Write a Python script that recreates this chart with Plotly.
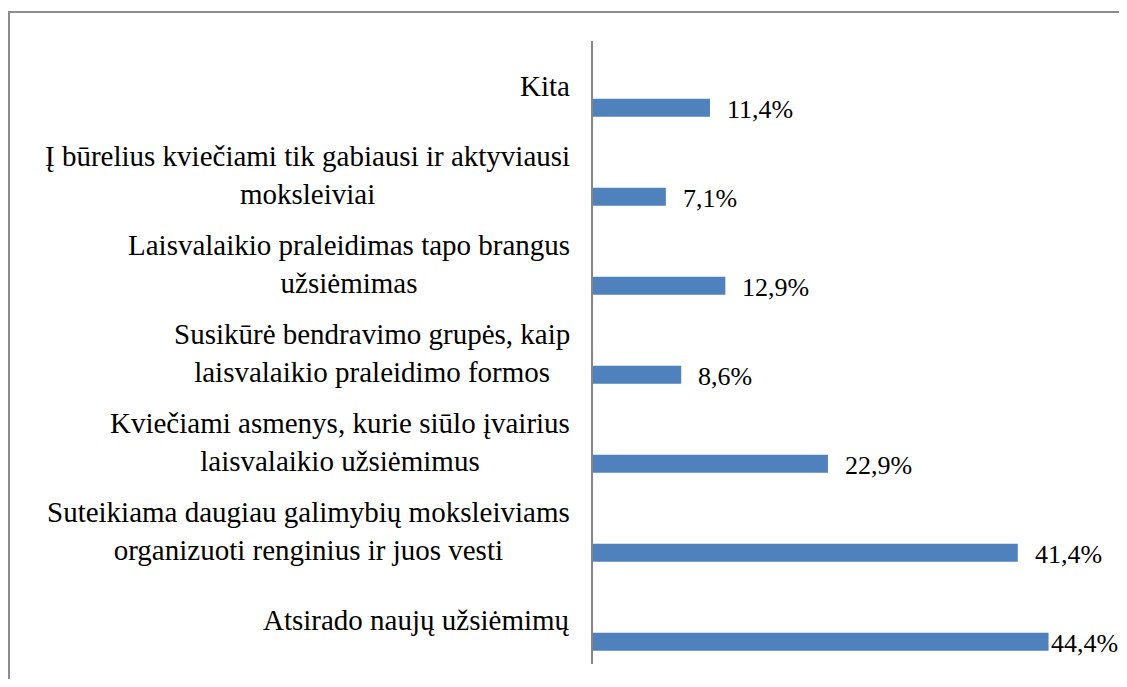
import plotly.graph_objects as go

# ---- data ----
categories = [
    "Kita",
    "Į būrelius kviečiami tik gabiausi ir aktyviausi<br>moksleiviai",
    "Laisvalaikio praleidimas tapo brangus<br>užsiėmimas",
    "Susikūrė bendravimo grupės, kaip<br>laisvalaikio praleidimo formos",
    "Kviečiami asmenys, kurie siūlo įvairius<br>laisvalaikio užsiėmimus",
    "Suteikiama daugiau galimybių moksleiviams<br>organizuoti renginius ir juos vesti",
    "Atsirado naujų užsiėmimų",
]
values = [11.4, 7.1, 12.9, 8.6, 22.9, 41.4, 44.4]
value_labels = ["11,4%", "7,1%", "12,9%", "8,6%", "22,9%", "41,4%", "44,4%"]

# ---- layout geometry (page pixels; the page body adds an 8px offset) ----
OFF = 8
PAGE_W, PAGE_H = 1127, 687
W, H = PAGE_W - 2 * OFF, PAGE_H - 2 * OFF          # avoid scrollbars
AX_L, AX_R, AX_T, AX_B = 593, 1106, 41, 664        # plot area in page pixels
ML, MR, MT, MB = AX_L - OFF, (OFF + W) - AX_R, AX_T - OFF, (OFF + H) - AX_B
PW, PH = W - ML - MR, H - MT - MB
XMAX = 50.0
FONT = "Liberation Serif"
FS_CAT = 29
FS_VAL = 26
BAR_COLOR = "#4F81BD"

def px_to_paper_x(px):
    return (px - OFF - ML) / PW

def px_to_paper_y(py):
    return 1 - (py - OFF - MT) / PH

ypos = list(range(len(categories)))

fig = go.Figure()
fig.add_trace(go.Bar(
    x=values,
    y=ypos,
    orientation="h",
    width=0.2,
    offset=0.15,
    marker=dict(color=BAR_COLOR, line=dict(width=0)),
    hoverinfo="skip",
))

annotations = []
# category labels (right-aligned block, lines centred)
for i, cat in enumerate(categories):
    annotations.append(dict(
        text=cat, xref="paper", yref="y",
        x=px_to_paper_x(572), y=i,
        xanchor="right", yanchor="middle", align="center",
        showarrow=False,
        font=dict(family=FONT, size=FS_CAT, color="black"),
    ))

# value labels
scale = PW / XMAX
label_w = 2.583 * FS_VAL
for i, (v, lab) in enumerate(zip(values, value_labels)):
    bar_end = AX_L + v * scale
    shift = min(15, (OFF + W) - (bar_end + 3 + label_w))
    annotations.append(dict(
        text=lab, xref="x", yref="y",
        x=v, y=i + 0.25,
        xanchor="left", yanchor="middle",
        xshift=shift, yshift=-2,
        showarrow=False,
        font=dict(family=FONT, size=FS_VAL, color="black"),
    ))

shapes = [dict(
    type="rect", xref="paper", yref="paper",
    x0=px_to_paper_x(9), x1=px_to_paper_x(PAGE_W + 20),
    y0=px_to_paper_y(12), y1=px_to_paper_y(PAGE_H + 20),
    line=dict(color="#8C8C8C", width=2),
    fillcolor="rgba(0,0,0,0)",
    layer="below",
)]

fig.update_layout(
    width=W, height=H,
    margin=dict(l=ML, r=MR, t=MT, b=MB, pad=0),
    paper_bgcolor="white", plot_bgcolor="white",
    showlegend=False,
    xaxis=dict(range=[0, XMAX], visible=False, showgrid=False, zeroline=False),
    yaxis=dict(range=[len(categories) - 0.5, -0.5], showticklabels=False,
               showgrid=False, zeroline=False, ticks="",
               showline=True, linecolor="#868686", linewidth=1.5),
    annotations=annotations,
    shapes=shapes,
)

fig.write_html("out.html", config={"displayModeBar": False})
